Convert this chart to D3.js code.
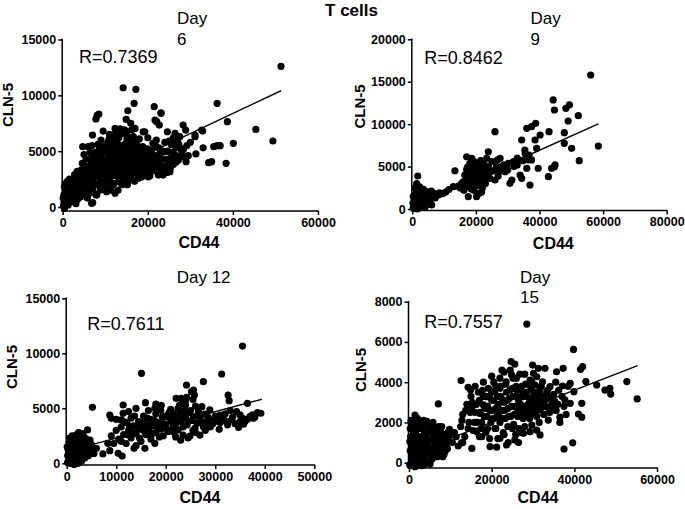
<!DOCTYPE html>
<html><head><meta charset="utf-8">
<script src="https://cdn.jsdelivr.net/npm/d3@7"></script>
<style>body{margin:0;background:#fff}svg{display:block}</style>
</head><body>
<svg id="c" width="685" height="509"></svg>
<script>
// ---------- data (CD44, CLN-5) ----------
const day6 = [
[200,100],[500,600],[300,1100],[800,300],[900,1500],[400,1800],[1200,900],[1500,2000],[1100,2300],[1700,1300],[1900,500],[600,2100],
[2300,800],[2600,1600],[2400,2400],[3000,1100],[3300,2000],[3600,2800],[3100,300],[3800,1400],[2800,2900],
[4200,900],[4400,1800],[4700,2600],[4300,3300],[5000,1300],[5300,2200],[5600,3000],[5200,3700],[5800,800],[5900,1700],[5500,4300],
[6200,1200],[6400,2100],[6600,2900],[6300,3600],[6800,4400],[7000,1600],[7200,2500],[7400,3300],[7100,4000],[7600,4900],[7800,1100],[7900,2000],
[8200,2800],[8400,3600],[8100,4300],[8600,5100],[8800,1500],[9000,2300],[9200,3100],[9400,3900],[9100,4700],[9600,5400],[9800,1900],[9900,2700],
[10200,3500],[10400,4300],[10100,5000],[10600,5800],[10800,1700],[11000,2400],[11200,3200],[11400,4000],[11100,4800],[11600,5600],[11800,2000],[11900,6200],
[12200,2800],[12400,3600],[12100,4400],[12600,5200],[12800,6000],[13000,1500],[13200,2300],[13400,3100],[13600,3900],[13300,4700],[13800,5500],[13900,6600],[12500,6700],
[14200,2500],[14400,3300],[14100,4100],[14600,4900],[14800,5700],[15000,6500],[15200,2000],[15400,2900],[15600,3700],[15300,4500],[15800,5300],[16000,6100],[16200,6900],[16400,3000],[16600,3900],[16300,4800],[16800,5600],[14500,6900],[16900,2300],
[17200,3300],[17400,4200],[17600,5000],[17900,2700],[18200,3700],[18500,4500],[18800,5400],[19000,3100],[19300,4000],[19600,4800],[19800,2900],[18000,6100],
[20300,3400],[20600,4300],[20900,5100],[21200,3700],[21600,4600],[22000,3200],[22400,4000],[22800,4800],[23200,3600],[23600,4300],[21800,5500],[20100,2700],
[24300,3700],[24700,5000],[25200,4100],[25500,5600],[26000,3800],[26300,4700],[26800,5300],[27200,4200],[27500,6300],[28000,5000],[28500,4500],[29200,5500],[26000,6200],[24600,3100],
[700,1000],[1000,2000],[1400,600],[1800,1800],[300,400],[1600,2500],[100,800],
[2100,1300],[2500,2000],[2900,2300],[3200,1500],[3500,700],[3900,2300],[2700,500],[3400,3200],
[4100,1400],[4500,2300],[4900,3000],[4600,3900],[5100,1800],[5500,2600],[5800,3500],[5000,4700],[5700,1200],[4200,2800],
[6100,1700],[6500,2500],[6900,3300],[6700,3900],[7300,2000],[7500,2900],[7700,3700],[7300,4600],[6400,4900],[7900,4300],[6900,5500],
[8300,2000],[8600,3200],[8400,4000],[8900,4500],[8700,2600],[9300,3500],[9500,2500],[9200,4300],[9800,5000],[9600,3100],[8300,5600],[9000,6000],
[10100,2000],[10300,3900],[10600,2800],[10800,4600],[10500,5300],[11300,2800],[11500,3600],[11700,4400],[11300,5200],[11800,5900],[10900,6100],[11400,1500],
[12100,2100],[12300,3200],[12500,4000],[12300,4900],[12700,5600],[13100,2700],[13300,3500],[13500,4300],[13600,5100],[13200,6200],[13900,2000],[13800,4700],
[14300,2900],[14500,3700],[14300,4500],[14700,5300],[15100,6100],[15100,3300],[15500,4100],[15400,4900],[15900,5700],[16100,3300],[16500,4300],[16100,2600],[16700,5100],[16600,6300],[15700,2400],[14800,6800],
[17100,3800],[17300,4600],[17700,3000],[17800,5400],[18300,3300],[18400,4100],[18700,5000],[19100,3500],[19400,4400],[19700,3600],[18600,2700],[17500,6000],
[20400,3800],[20800,4700],[21000,3300],[21400,4200],[21900,3700],[22300,4400],[22600,3300],[23000,4200],[23500,5000],[21200,5700],[22600,5300],[19900,5200],
[24800,4300],[25300,3500],[25800,4900],[26600,4400],[27300,5600],[27800,4600],[28400,5200],[25000,5900],[26200,5500],
[51300,12600],[14200,10680],[17200,10540],[16800,9280],[36300,9280],[21500,8980],[23100,8440],[15300,8620],[8500,8330],[7800,7880],[8100,8200],[14900,7850],
[22100,7640],[22700,7340],[38700,7640],[28300,7340],[45400,6950],[32900,6800],[31100,6450],[49400,5910],[40100,5700],[37000,5490],[36300,5490],[31300,4750],
[35000,4060],[34300,3970],[38400,3910],[29000,4060],[26600,4000],[20500,2800],[7050,390],[4700,5400],[6000,5400],[7000,6450],[12300,7040],[17000,7040],
[19300,6740],[24600,6740],[26400,6600],[27000,6000],[28900,6890],[31100,6290],[32700,6890],[25600,4500],[24000,4950],[23300,3310],[22500,2860],[17800,2570],
[12300,1230],[10300,1370],[8000,1070],[6800,330],[5200,1230],[2900,630],[1300,180],[400,-120],[21700,7790],[23100,8390],[13500,7000],[11000,6500],
[9500,6800],[16000,7500],[20000,6200],[22000,6000],[24000,5800],[30000,5800],[29500,4600],[33000,5300],[35500,5400],[18900,6740],[23300,3610],[25200,3160],[23600,2860]
];
const fit6 = [[0,1180],[51300,10410]];

const day9 = [
[300,100],[600,500],[900,900],[1200,300],[1500,1200],[500,1300],[1800,700],[2200,1500],[2500,300],[2800,1000],[3100,1800],[1000,1700],
[3500,600],[3900,1300],[4200,1900],[4600,800],[5000,1400],[5500,1700],[6000,2100],[6500,1300],[7000,1800],[7500,1600],[3000,2300],[2000,2000],
[800,100],[1600,0],[4000,200],[5300,900],[9500,1800],[10500,2000],[11500,2300],[200,700],
[400,300],[700,1100],[1100,600],[1300,1400],[1700,300],[2000,900],[2400,1200],[2600,1800],[3300,1100],[3700,300],[4000,900],[4400,1500],
[4900,600],[5800,1200],[6300,1800],[7200,1300],[8500,1900],[1200,2000],[300,1500],[800,2500],[2300,2600],[1400,3000],
[15000,2500],[16000,3200],[17000,2800],[17500,3600],[18000,3100],[18500,2400],[19000,3800],[19500,3300],[20000,2700],[20000,4300],[20500,3700],[21000,3100],
[21000,4600],[21500,4000],[22000,3500],[22000,5000],[18800,4700],[19400,5600],[20600,5400],[21500,5700],[16500,4000],[17300,4900],[21800,2000],[23000,4500],
[24000,5000],[23000,3000],[25500,4500],[26500,5000],[27500,4500],[28800,5200],[32000,5000],[33000,6000],[34800,5700],[35500,6500],[36000,4800],[36500,5800],
[15500,3000],[16200,2200],[17000,3400],[17800,2600],[18300,3500],[18900,3000],[19300,2200],[19700,4000],[20200,3300],[20800,4000],[21300,3500],[21700,4400],
[22400,3000],[22800,4000],[19000,5000],[20300,5000],[22500,5400],[24500,4400],[23500,3700],[25000,5600],[26800,5800],[27000,3900],[30000,4600],[33000,5200],
[1700,3890],[1900,2440],[3500,2320],[4500,2040],[6600,1850],[8200,1650],[6100,470],[13400,4510],[12900,2630],[14500,2710],[16000,2950],
[17100,6160],[18700,5970],[18100,5380],[17100,4600],[18100,4200],[19700,4990],[17600,1450],[20200,1450],[21000,1850],[22000,2440],[22900,3810],
[24400,3620],[23400,5970],[23900,6750],[26000,9110],[26000,3420],[27600,5970],[28100,4990],[29200,4400],[30200,5380],[31800,5580],[30700,3030],
[31300,3420],[33300,5780],[33900,4010],[34400,3620],[34400,8130],[35400,6950],[36700,6360],[36000,9510],[37500,9700],[38800,10100],[37000,2830],
[37500,5780],[39100,7150],[38600,8130],[40200,8720],[39600,4800],[42800,3810],[43800,4800],[44700,4990],[43000,9110],[44300,12850],[44700,11670],
[56100,15790],[48300,11870],[49400,12260],[49000,10370],[52200,11000],[47800,9000],[47800,7740],[50100,7150],[58500,7420],[52500,5700],[44900,5190]
];
const fit9 = [[0,214],[58500,10020]];

const day12 = [
[200,100],[500,600],[300,1200],[800,1800],[1000,300],[1200,900],[1400,1500],[1600,2100],[1800,600],[2000,1200],[2200,1800],[2500,300],
[2700,900],[2900,1500],[3100,2200],[3400,600],[3600,1200],[3900,1800],[4300,1100],[4600,1600],[600,2300],[1100,2500],[1900,2400],[700,0],
[1500,-100],[2300,0],[100,1500],[3000,200],[5000,1700],[5500,900],[3200,2700],[2600,2500],
[400,900],[900,1300],[1300,400],[1700,1700],[2100,800],[2400,2100],[2800,1200],[3300,1600],[3700,500],[4000,2200],[4400,700],[4800,1300],
[500,1900],[1300,2000],[2000,2600],[3500,2400],[600,300],[1100,2100],[200,700],[2900,600],[3900,1000],[4700,2100],[5200,1100],
[9000,2500],[9500,1800],[10000,3000],[10500,2200],[11000,3300],[11500,2600],[12000,1800],[12000,3700],[12500,3000],[13000,2300],[13000,4100],[13500,3400],
[14000,2700],[14000,1600],[14500,3800],[15000,3100],[15000,2000],[15500,4300],[16000,3500],[16000,2600],[16500,3000],[17000,4000],[17000,2200],[17500,3400],
[18000,4500],[18000,2800],[18500,3700],[19000,3100],[19000,4800],[19500,2500],[20000,3500],[20000,4300],[20500,2900],[21000,3800],[21000,4900],[21500,3300],
[22000,4300],[22000,2400],[22500,5000],[23000,3800],[23000,4600],[23500,3300],[24000,4300],[24000,5300],[24500,3800],[25000,4800],[25500,3000],[12500,4700],
[14000,5000],[16500,4800],[17800,5000],[10000,4000],[23000,2100],[24500,2300],[26000,2800],[28000,3000],[29500,3600],[27000,4000],[30000,4300],[31000,3700],
[32000,4500],[33500,4200],[34000,3600],[35500,4100],[36000,3800],[37500,4400],[38000,4200],[22000,3600],[25500,5800],[24200,6000],[23500,5600],
[11000,2000],[11500,3800],[12300,2600],[12700,3400],[13300,2800],[13700,4300],[14300,3300],[14700,2300],[15200,3700],[15700,2900],[16300,4100],[16700,3500],
[17300,2700],[17700,3900],[18300,3300],[18700,2400],[19300,4200],[19700,3600],[20300,3100],[20700,4600],[21300,4200],[21700,2800],[22300,3800],[22700,4400],
[23300,4100],[23800,4800],[24300,3500],[24700,4600],[25300,3900],[26500,4300],[27500,3600],[28500,4200],[29000,3300],[30500,3800],[32500,3500],[33000,4800],
[35000,4400],[36500,4000],[38500,4600],[26000,5200],[24000,5700],[22800,5300],
[15100,8180],[5200,5090],[11400,5300],[15900,5510],[18000,5390],[19100,5270],[8700,4390],[9000,4090],[11400,4540],[11000,3940],[24200,7120],[25200,6510],
[25800,6210],[22100,5910],[23100,5910],[20500,4240],[21500,4550],[22500,3030],[23500,2570],[4200,3030],[2400,2780],[6000,1360],[7300,850],[8700,1150],
[10400,910],[11200,660],[8300,1820],[15800,1360],[17800,1820],[13600,1360],[35500,10660],[31300,8120],[27600,7420],[25600,6660],[32600,6210],[32800,5690],
[36500,5450],[39200,4550],[37000,4240],[37700,4090],[28900,4850],[34300,4690],[35000,3780],[35700,3550],[34700,3270],[30800,3090],[26900,2570],[24900,2480],
[33300,3940],[32300,3780],[31600,4180],[29600,3940],[30300,4240],[31000,4390],[28300,3780],[27600,3330],[26300,3640],[25900,3180],[25600,4240],[26600,4690],
[27300,5150],[27900,4480]
];
const fit12 = [[0,1083],[39400,5820]];

const day15 = [
[200,-100],[1500,0],[2900,-150],[4200,100],[5600,200],[600,250],[1900,350],[3300,200],[4700,450],[6100,400],[7400,500],[8800,600],
[300,600],[1300,700],[2600,550],[3900,750],[5200,650],[6600,800],[8000,900],[9300,700],[800,950],[2100,1050],[3400,900],[4800,1100],
[6200,1000],[7500,1200],[9000,1100],[400,1300],[1700,1400],[3000,1250],[4400,1450],[5800,1350],[7000,1500],[8400,1400],[1000,1650],[2400,1700],
[3700,1600],[5000,1800],[6500,1700],[7900,1800],[200,1050],[600,1900],[1400,1950],[2800,2000],[4300,2050],[9600,1300],[10500,1000],[11000,1500],
[900,-50],[2200,150],[3600,-100],[5000,0],[6800,300],[8200,300],[1200,450],[2500,300],[4000,400],[5400,500],[7800,650],[9000,900],
[700,800],[2000,750],[3300,600],[4600,850],[6000,700],[7100,1000],[8600,1100],[1400,1100],[2700,1000],[4000,1200],[5500,1100],[6800,1300],
[8200,1250],[9400,1500],[1100,1500],[2400,1300],[3600,1400],[5100,1500],[6300,1500],[7600,1600],[300,1700],[1700,1800],[3200,1850],[4600,1700],
[5800,2000],[7200,1800],[500,2100],[2000,2200],[3500,2100],
[12500,1800],[13000,2400],[13500,1300],[14000,2900],[14500,2000],[15000,3300],[15500,1600],[16000,2500],[13000,1000],[16000,3800],
[16500,2000],[17000,3100],[17500,1700],[17800,3600],[18200,2300],[18600,1500],[19000,2800],[19400,3300],[19800,2000],[18000,4000],[19500,1200],
[20200,2600],[20500,3100],[20800,1700],[21000,3800],[21300,2300],[21600,2900],[22000,2000],[22200,3300],[22500,2600],[22800,1500],[23000,3000],
[23300,2200],[23600,3500],[23900,1800],[20500,4000],[22000,4200],[23000,4500],[21500,1200],[24000,2700],[24000,1000],
[24300,3200],[24600,2300],[25000,3700],[25300,1900],[25600,2800],[26000,3300],[26300,2300],[26600,1700],[27000,2900],[27300,3800],[27600,2200],
[27900,3300],[25200,4200],[26800,4400],[28200,2600],[28000,1800],[25800,1400],[26500,1000],
[28500,3500],[28800,2900],[29200,2200],[29500,3700],[30000,3000],[30500,2500],[31000,3500],[31500,2000],[32000,2900],[32000,3800],
[33000,3100],[34000,2500],[35000,3400],[36000,2900],[37000,3300],[38000,2400],[38500,3800],[36500,2000],[35500,4000],
[12800,2100],[13700,2600],[14300,1700],[14800,2500],[15300,3000],[15800,2000],[16300,2900],[16800,3500],[17200,2500],[17600,2000],[18000,3300],[18400,2700],
[18900,2300],[19200,3700],[19600,2600],[20000,3100],[20400,2200],[20700,3500],[21000,2700],[21400,3300],[21800,2500],[22100,3800],[22400,2200],[22700,3100],
[23100,2600],[23400,3900],[23800,3100],[24200,2300],[24400,3600],[24800,2800],[25200,3300],[25500,2400],[25900,3800],[26200,2700],[26500,3100],[27100,2500],
[27500,3500],[27800,2800],[28200,3900],[28600,2300],[29100,3200],[29600,2600],[30200,3500],[30700,2800],[31200,3000],[31800,3300],[32600,2400],[33500,3600],
[34300,3200],[35600,2600],[36200,3600],[37500,2800],[23000,1400],[21000,1700],[25000,1700],[27000,1500],[19000,1700],[17000,1300],[20000,4300],[22500,4600],
[24500,4600],[26000,4200],[28000,4400],
[28500,6890],[24700,5020],[25600,4900],[12600,4080],[14300,3750],[14900,3610],[7100,2920],[1450,2370],[3900,2040],[3100,1790],[5500,1820],[6000,1710],
[9800,1660],[7900,1210],[8300,830],[8500,430],[11900,830],[12700,990],[15200,710],[19600,800],[21200,770],[17600,1290],[16400,1540],[10700,1490],
[11400,1290],[15200,2780],[17200,2450],[18000,2870],[18800,3280],[20000,3530],[22000,3700],[23500,4020],[24800,4360],[26100,3610],[27300,3280],
[29700,3030],[28500,2450],[29700,1870],[27700,1460],[25600,1130],[22000,1210],[23600,880],[240,-110],[1450,-200],[5100,-60],
[39800,5630],[29900,4850],[31300,4690],[32900,4690],[35700,4520],[37300,4690],[41500,4640],[42000,4770],[30900,4270],[32300,4020],[30500,3860],
[29700,4020],[34100,3780],[33300,3450],[31700,3610],[32500,3280],[31300,3120],[30100,3280],[37100,3810],[39000,3940],[39900,3530],[42800,4030],
[45400,3860],[47400,3610],[48600,3700],[48800,3410],[52700,4030],[55200,3170],[37700,3120],[39000,2950],[41800,2950],[41000,2420],[41800,2260],
[36500,2260],[34100,2620],[34900,2620],[33300,2780],[34500,2870],[35300,3030],[33700,2120],[30900,1620],[31700,1380],[29300,1540],[39600,990],
[37500,680],[29300,2370],[30100,2450],[30900,2290],[31700,2620],[32500,2780],[30500,2870],[29300,2780],[29300,4110],[30100,4440]
];
const fit15 = [[0,416],[55300,4820]];

const xTicks6 = [0,20000,40000,60000],  yTicks6 = [0,5000,10000,15000];
const xTicks9 = [0,20000,40000,60000,80000], yTicks9 = [0,5000,10000,15000,20000];
const xTicks12 = [0,10000,20000,30000,40000,50000], yTicks12 = [0,5000,10000,15000];
const xTicks15 = [0,20000,40000,60000], yTicks15 = [0,2000,4000,6000,8000];
const dayLabels = [["Day","6"],["Day","9"],["Day 12"],["Day","15"]];
const rLabels = ["R=0.7369","R=0.8462","R=0.7611","R=0.7557"];
const xLabel = "CD44", yLabel = "CLN-5", mainTitle = "T cells";

// ---------- layout ----------
const panels = [
 {data:day6, fit:fit6, xt:xTicks6, yt:yTicks6, day:dayLabels[0], r:rLabels[0],
  xr:[62.7,318], yr:[207,39.5], xAxisY:211, dayX:177, dayY:[24,45], rX:79, rY:63, cdX:199, cdY:248, clX:13.3, clY:105},
 {data:day9, fit:fit9, xt:xTicks9, yt:yTicks9, day:dayLabels[1], r:rLabels[1],
  xr:[412.3,666.7], yr:[209,39.3], xAxisY:210.5, dayX:530.5, dayY:[24,45], rX:424.3, rY:64, cdX:553.3, cdY:249, clX:365, clY:106.5},
 {data:day12, fit:fit12, xt:xTicks12, yt:yTicks12, day:dayLabels[2], r:rLabels[2],
  xr:[66.7,314.3], yr:[463.3,298.3], xAxisY:465, dayX:176.7, dayY:[282.5], rX:87.3, rY:330, cdX:200, cdY:503, clX:16.7, clY:367},
 {data:day15, fit:fit15, xt:xTicks15, yt:yTicks15, day:dayLabels[3], r:rLabels[3],
  xr:[409,657], yr:[462.7,301.7], xAxisY:468, dayX:520, dayY:[282.5,303.3], rX:424.3, rY:327.7, cdX:538, cdY:503, clX:366, clY:370}
];

const FONT = "'Liberation Sans', Arial, Helvetica, sans-serif";
const svg = d3.select("#c");
svg.append("rect").attr("width",685).attr("height",509).attr("fill","#fff");

svg.append("text").attr("x",351.5).attr("y",16).attr("text-anchor","middle")
  .attr("font-family",FONT).attr("font-weight","bold").attr("font-size",17).text(mainTitle);

panels.forEach(p => {
  const g = svg.append("g");
  const x = d3.scaleLinear().domain([0, p.xt[p.xt.length-1]]).range(p.xr);
  const y = d3.scaleLinear().domain([0, p.yt[p.yt.length-1]]).range(p.yr);

  g.append("g").selectAll("circle").data(p.data).join("circle")
    .attr("cx", d => x(d[0])).attr("cy", d => y(d[1])).attr("r", 3.6).attr("fill", "#000");

  g.append("line")
    .attr("x1", x(p.fit[0][0])).attr("y1", y(p.fit[0][1]))
    .attr("x2", x(p.fit[1][0])).attr("y2", y(p.fit[1][1]))
    .attr("stroke", "#000").attr("stroke-width", 1.4);

  const gx = g.append("g").attr("transform", `translate(0,${p.xAxisY})`)
    .call(d3.axisBottom(x).tickValues(p.xt).tickFormat(d3.format("d")).tickSize(4).tickPadding(3).tickSizeOuter(0));
  gx.select(".domain").remove();
  gx.append("line").attr("x1", x(0) - 1).attr("x2", x.range()[1] + 0.75)
    .attr("stroke", "#000").attr("stroke-width", 1.5);

  const gy = g.append("g").attr("transform", `translate(${x(0) - 0.5},0)`)
    .call(d3.axisLeft(y).tickValues(p.yt).tickFormat(d3.format("d")).tickSize(4).tickPadding(2).tickSizeOuter(0));
  gy.select(".domain").remove();
  gy.append("line").attr("y1", y.range()[1] - 0.75).attr("y2", p.xAxisY + 0.75)
    .attr("stroke", "#000").attr("stroke-width", 1.5);

  [gx, gy].forEach(a => {
    a.attr("font-family", FONT).attr("font-size", 12.5).attr("font-weight", "bold");
    a.selectAll(".tick line").attr("stroke", "#000").attr("stroke-width", 1.5);
    a.selectAll(".tick text").attr("fill", "#000");
  });

  p.day.forEach((t, i) => {
    g.append("text").attr("x", p.dayX).attr("y", p.dayY[i])
      .attr("font-family", FONT).attr("font-size", 17).attr("fill", "#000").text(t);
  });
  g.append("text").attr("x", p.rX).attr("y", p.rY)
    .attr("font-family", FONT).attr("font-size", 18).attr("fill", "#000").text(p.r);
  g.append("text").attr("x", p.cdX).attr("y", p.cdY).attr("text-anchor", "middle")
    .attr("font-family", FONT).attr("font-size", 16).attr("font-weight", "bold").text(xLabel);
  g.append("text").attr("transform", `translate(${p.clX},${p.clY}) rotate(-90)`).attr("text-anchor", "middle")
    .attr("font-family", FONT).attr("font-size", 15).attr("font-weight", "bold").text(yLabel);
});
</script>
</body></html>
